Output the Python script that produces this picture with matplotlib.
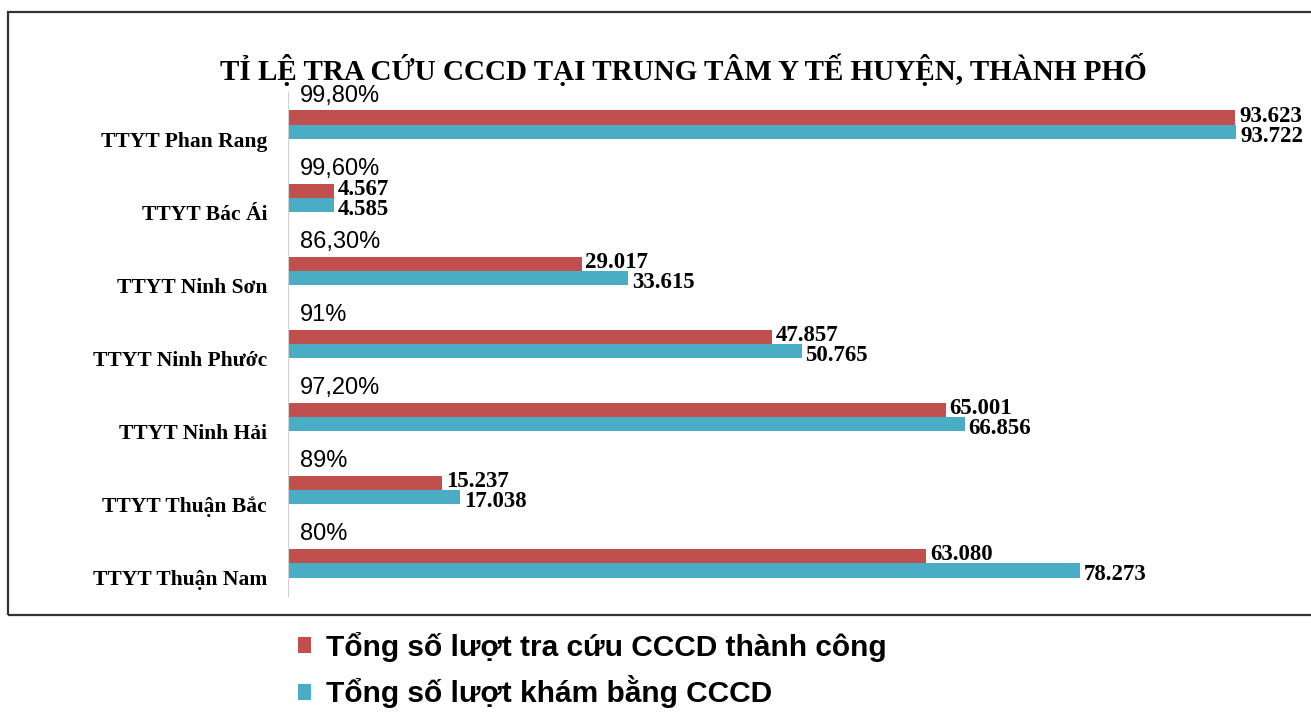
import matplotlib
matplotlib.use("Agg")
import matplotlib.pyplot as plt
from matplotlib.patches import Rectangle

# data (top to bottom as in the chart)
units = ["TTYT Phan Rang", "TTYT Bác Ái", "TTYT Ninh Sơn", "TTYT Ninh Phước",
         "TTYT Ninh Hải", "TTYT Thuận Bắc", "TTYT Thuận Nam"]
success = [93623, 4567, 29017, 47857, 65001, 15237, 63080]
total = [93722, 4585, 33615, 50765, 66856, 17038, 78273]
ratio = ["99,80%", "99,60%", "86,30%", "91%", "97,20%", "89%", "80%"]
value_labels_success = ["93.623", "4.567", "29.017", "47.857", "65.001", "15.237", "63.080"]
value_labels_total = ["93.722", "4.585", "33.615", "50.765", "66.856", "17.038", "78.273"]

RED = "#C0504D"
TEAL = "#4BACC6"
serif = ["Liberation Serif", "DejaVu Serif"]
sans = ["Liberation Sans Narrow", "Liberation Sans", "DejaVu Sans"]

fig = plt.figure(figsize=(13.11, 7.15), dpi=100)
ax = fig.add_axes([288/1311, 1-596/715, 1012/1311, 504/715])

n = len(units)
pos = [n-1-i for i in range(n)]
h = 0.2
off = 0.097
b1 = ax.barh([p+off for p in pos], success, height=h, color=RED, label="Tổng số lượt tra cứu CCCD thành công")
b2 = ax.barh([p-off for p in pos], total, height=h, color=TEAL, label="Tổng số lượt khám bằng CCCD")

for p, v, s in zip(pos, success, value_labels_success):
    ax.text(v+350, p+off+0.02, s, ha="left", va="center", fontsize=16.5,
            fontweight="bold", family=serif)
for p, v, s in zip(pos, total, value_labels_total):
    ax.text(v+350, p-off-0.06, s, ha="left", va="center", fontsize=16.5,
            fontweight="bold", family=serif)
for p, r in zip(pos, ratio):
    ax.text(1200, p+0.40, r, ha="left", va="center", fontsize=17, family=sans)

ax.set_xlim(0, 100000)
ax.set_ylim(-0.45, n-1+0.45)
ax.set_yticks([p-0.2 for p in pos])
ax.set_yticklabels(units, fontsize=15.5, fontweight="bold", family=serif)
ax.tick_params(axis="y", length=0, pad=15)
ax.set_xticks([])
for sp in ["top", "right", "bottom"]:
    ax.spines[sp].set_visible(False)
ax.spines["left"].set_color("#d0d0d0")

fig.text(683/1311, 1-70/715, "TỈ LỆ TRA CỨU CCCD TẠI TRUNG TÂM Y TẾ HUYỆN, THÀNH PHỐ",
         ha="center", va="center", fontsize=21, fontweight="bold", family=serif)

fig.add_artist(Rectangle((8/1311, 1-615/715), 1.0, 603/715, transform=fig.transFigure,
                         fill=False, lw=1.6, edgecolor="#333333"))

fig.legend(handles=[b1, b2], loc="upper left", bbox_to_anchor=(283/1311, 1-617/715),
           frameon=False, handlelength=0.45, handleheight=0.45, borderpad=0,
           handletextpad=0.5, labelspacing=0.45,
           prop={"family": sans, "size": 21.5, "weight": "bold"})

fig.savefig("out.png", dpi=100)
